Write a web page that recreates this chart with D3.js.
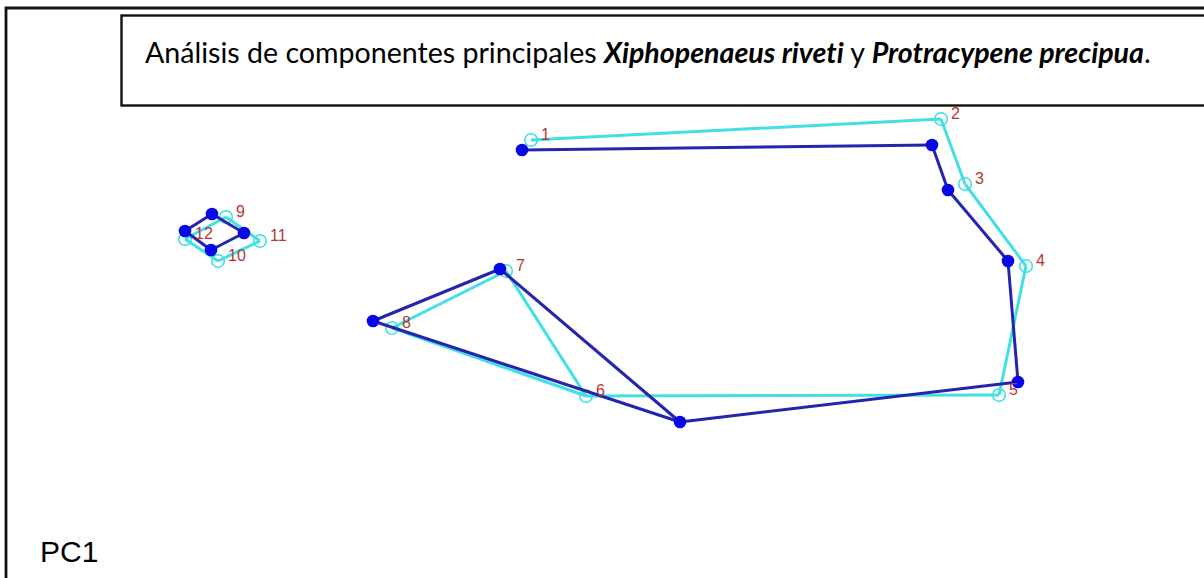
<!DOCTYPE html>
<html>
<head>
<meta charset="utf-8">
<script src="https://cdn.jsdelivr.net/npm/d3@7"></script>
<style>
html,body{margin:0;padding:0;background:#fff;}
svg{display:block;}
text{font-variant-ligatures:none;}
</style>
</head>
<body>
<svg id="chart" width="1204" height="578"></svg>
<script>
// Landmark labels
const landmarks = [1,2,3,4,5,6,7,8,9,10,11,12];
// Species 1 (filled dark blue points): PC scores
const darkX = [-0.078, 0.332, 0.348, 0.408, 0.418, 0.080, -0.100, -0.227, -0.388, -0.389, -0.356, -0.415];
const darkY = [ 0.140, 0.145, 0.100, 0.029, -0.092, -0.132, 0.021, -0.031, 0.076, 0.040, 0.057, 0.059];
// Species 2 (hollow cyan points): PC scores
const cyanX = [-0.069, 0.341, 0.365, 0.426, 0.399, -0.014, -0.094, -0.208, -0.374, -0.382, -0.340, -0.415];
const cyanY = [ 0.150, 0.171, 0.106, 0.024, -0.105, -0.106, 0.019, -0.038, 0.073, 0.029, 0.049, 0.051];
// Wireframe links between landmarks
const links = [[1,2],[2,3],[3,4],[4,5],[5,6],[6,7],[7,8],[8,6],[9,11],[11,10],[10,12],[12,9]];
const titleParts = [
  {t:"Análisis de componentes principales ", b:false},
  {t:"Xiphopenaeus riveti", b:true},
  {t:" y ", b:false},
  {t:"Protracypene precipua", b:true},
  {t:".", b:false}
];
const axisLabel = "PC1";

const svg = d3.select("#chart");
const x = d3.scaleLinear().domain([-0.5, 0.5]).range([100, 1100]);
const y = d3.scaleLinear().domain([-0.25, 0.25]).range([540, 40]);

const dark = landmarks.map((k,i)=>({k, x:darkX[i], y:darkY[i]}));
const cyan = landmarks.map((k,i)=>({k, x:cyanX[i], y:cyanY[i]}));

// Outer frame (open to right / bottom)
svg.append("path")
  .attr("d", "M6,580 L6,8 L1210,8")
  .attr("fill","none").attr("stroke","#111").attr("stroke-width",2.8);

// Title box
svg.append("rect")
  .attr("x",121.5).attr("y",15.5).attr("width",1200).attr("height",90)
  .attr("fill","#fff").attr("stroke","#111").attr("stroke-width",2.4);

const title = svg.append("text")
  .attr("x",145).attr("y",63)
  .attr("font-family","Lato, 'Open Sans', sans-serif")
  .attr("font-size",25).attr("fill","#000");
titleParts.forEach(p=>{
  title.append("tspan").text(p.t)
    .attr("font-weight", p.b ? "bold" : "normal")
    .attr("font-style", p.b ? "italic" : "normal");
});
// fit title width to reference span
const w = title.node().getComputedTextLength();
const target = 1006;
title.attr("font-size", 25 * target / w);

// Cyan wireframe
const g = svg.append("g");
g.selectAll("line.cyan").data(links).join("line")
  .attr("class","cyan")
  .attr("x1",d=>x(cyan[d[0]-1].x)).attr("y1",d=>y(cyan[d[0]-1].y))
  .attr("x2",d=>x(cyan[d[1]-1].x)).attr("y2",d=>y(cyan[d[1]-1].y))
  .attr("stroke","#40e0e4").attr("stroke-width",3);
g.selectAll("circle.cyan").data(cyan).join("circle")
  .attr("class","cyan")
  .attr("cx",d=>x(d.x)).attr("cy",d=>y(d.y)).attr("r",6.3)
  .attr("fill","none").attr("stroke","#40e0e4").attr("stroke-width",1.6);

// Dark wireframe
g.selectAll("line.dark").data(links).join("line")
  .attr("class","dark")
  .attr("x1",d=>x(dark[d[0]-1].x)).attr("y1",d=>y(dark[d[0]-1].y))
  .attr("x2",d=>x(dark[d[1]-1].x)).attr("y2",d=>y(dark[d[1]-1].y))
  .attr("stroke","#2424ae").attr("stroke-width",3);
g.selectAll("circle.dark").data(dark).join("circle")
  .attr("class","dark")
  .attr("cx",d=>x(d.x)).attr("cy",d=>y(d.y)).attr("r",6.3)
  .attr("fill","#0808e6");

// Labels
g.selectAll("text.lab").data(cyan).join("text")
  .attr("class","lab")
  .attr("x",d=>x(d.x)+10).attr("y",d=>y(d.y))
  .attr("font-family","'Liberation Sans', Arial, sans-serif")
  .attr("font-size",16).attr("fill","#b83434")
  .text(d=>d.k);

// Axis label
svg.append("text")
  .attr("x",40).attr("y",562)
  .attr("font-family","'Liberation Sans', Arial, sans-serif")
  .attr("font-size",30).attr("fill","#000")
  .text(axisLabel);
</script>
</body>
</html>
